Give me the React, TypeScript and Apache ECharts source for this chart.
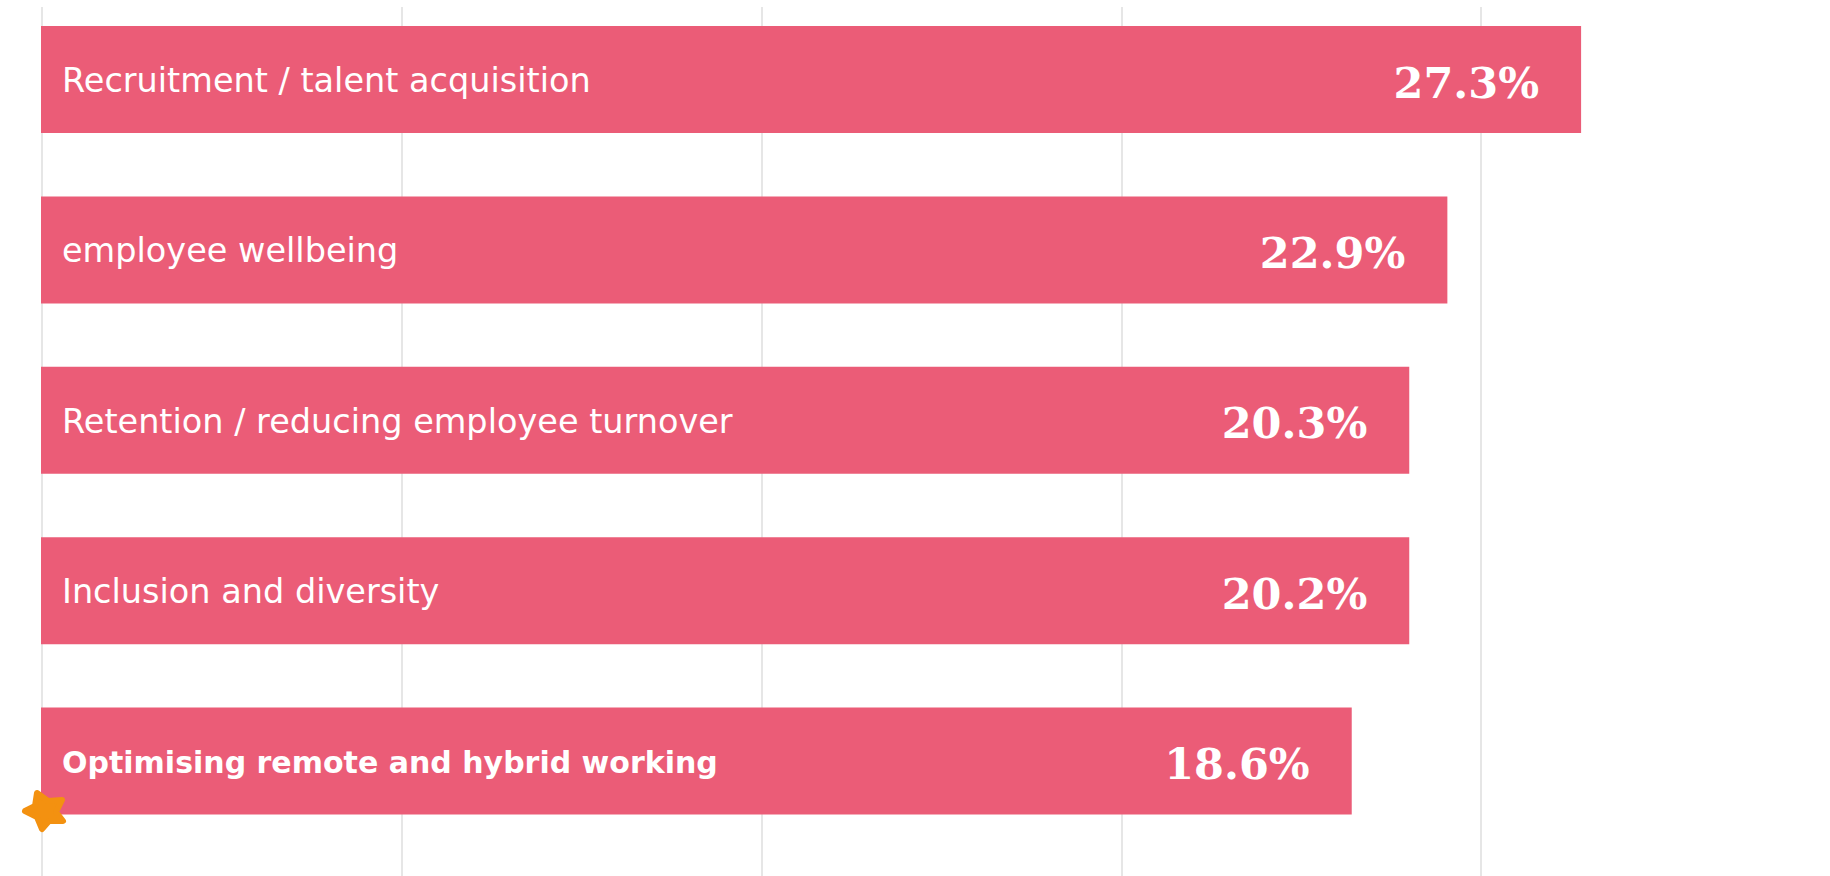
import React, { useEffect, useRef } from "react";
import * as echarts from "echarts";

const categories = [
  "Recruitment / talent acquisition",
  "employee wellbeing",
  "Retention / reducing employee turnover",
  "Inclusion and diversity",
  "Optimising remote and hybrid working",
];
// Printed percentages
const valueLabels = ["27.3%", "22.9%", "20.3%", "20.2%", "18.6%"];
// Drawn bar lengths, in units where a gridline step is 5
const barLengths = [21.42, 19.56, 19.03, 19.03, 18.23];
const gridTicks = [0, 5, 10, 15, 20];

const BAR = "#EB5C77";
const STAR_PATH =
  "M37 113 L48 121 L62 120 L56 132 L63 141 L49 141 L42 149 L37 137 L25 131 L35 126 Z";

echarts.graphic.registerShape("star", echarts.graphic.extendPath(STAR_PATH, {}));

export default function App() {
  const ref = useRef<HTMLDivElement>(null);
  useEffect(() => {
    document.body.style.margin = "0";
    document.body.style.overflow = "hidden";
    const chart = echarts.init(ref.current!, undefined, { renderer: "svg" });
    chart.setOption({
      animation: false,
      grid: [
        { left: 42, top: 7, width: 1439, height: 869 },
        { left: 41, top: 79.5, width: 1789, height: 681.6 },
      ],
      xAxis: [
        {
          gridIndex: 0, type: "value", min: gridTicks[0], max: gridTicks[gridTicks.length - 1], interval: 5,
          axisLabel: { show: false }, axisLine: { show: false }, axisTick: { show: false },
          splitLine: { show: true, lineStyle: { color: "#E6E6E6", width: 2 } },
        },
        { gridIndex: 1, type: "value", min: 0, max: 1789 / 71.9, show: false, splitLine: { show: false } },
      ],
      yAxis: [
        { gridIndex: 0, type: "category", data: categories, axisLabel: { show: false }, axisLine: { show: false }, axisTick: { show: false } },
        { gridIndex: 1, type: "category", data: categories, inverse: true, boundaryGap: false, axisLabel: { show: false }, axisLine: { show: false }, axisTick: { show: false } },
      ],
      series: [
        {
          type: "bar", xAxisIndex: 1, yAxisIndex: 1, barWidth: 107, barGap: "-100%", clip: false,
          itemStyle: { color: BAR },
          label: {
            show: true, position: "insideLeft", distance: 21, color: "#fff",
            fontFamily: "DejaVu Sans", fontSize: 33.5, fontWeight: 400, offset: [0, 1],
            formatter: (p: any) => categories[p.dataIndex],
          },
          data: barLengths.map((v, i) => ({
            value: v,
            label: i === 4 ? { fontWeight: 700, fontSize: 30 } : undefined,
          })),
        },
        {
          type: "bar", xAxisIndex: 1, yAxisIndex: 1, barWidth: 107, barGap: "-100%", clip: false, data: barLengths,
          itemStyle: { color: "transparent" },
          label: {
            show: true, position: "insideRight", distance: 42, color: "#fff",
            fontFamily: "DejaVu Serif", fontSize: 43, fontWeight: 700, offset: [0, 3],
            formatter: (p: any) => valueLabels[p.dataIndex],
          },
        },
      ],
      graphic: [
        {
          type: "star", x: 0, y: 680, z: 100,
          style: { fill: "#F39110", stroke: "#F39110", lineWidth: 6, lineJoin: "round" },
        },
      ],
    });
    return () => chart.dispose();
  }, []);
  return <div ref={ref} style={{ width: 1830, height: 876 }} />;
}
